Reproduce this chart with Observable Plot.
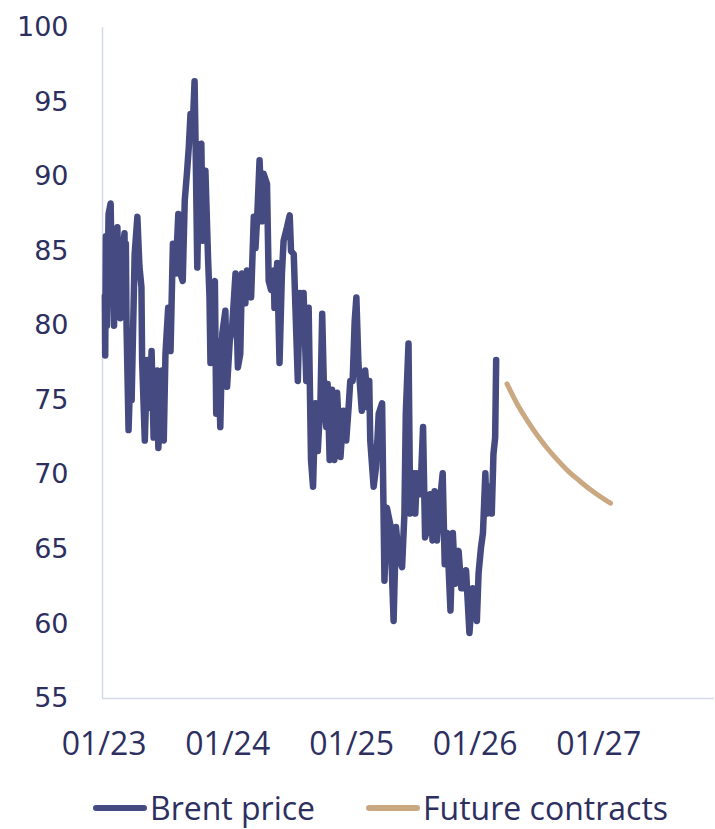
<!DOCTYPE html>
<html>
<head>
<meta charset="utf-8">
<script src="https://cdn.jsdelivr.net/npm/d3@7"></script>
<script src="https://cdn.jsdelivr.net/npm/@observablehq/plot@0.6"></script>
<style>
  html, body { margin: 0; padding: 0; background: #ffffff; }
  #wrap { width: 715px; height: 829px; position: relative; overflow: hidden; }
  g[aria-label="y-axis tick label"] text { font-family: "DejaVu Sans", sans-serif; font-size: 27px; fill: #2d2f5f; }
  g[aria-label="x-axis tick label"] text { font-family: "Open Sans", sans-serif; font-size: 32px; fill: #2d2f5f; }
  #legend { height: 66px; display: flex; align-items: center; justify-content: center; padding-left: 45px;
            font-family: "Open Sans", sans-serif; font-size: 32px; line-height: 36px; color: #2d2f5f; }
  .item { display: flex; align-items: center; margin: 0 25px; }
  .item span { display: block; line-height: 36px; }
  .item svg { margin-right: 2px; }
</style>
</head>
<body>
<div id="wrap">
  <div id="chart"></div>
  <div id="legend"></div>
</div>
<script>
// ---- Data ----
const brentDates = [
  "2023-01-03","2023-01-04","2023-01-06","2023-01-09","2023-01-14","2023-01-20","2023-01-24","2023-01-26",
  "2023-01-30","2023-02-04","2023-02-09","2023-02-12","2023-02-15","2023-02-18","2023-02-24","2023-03-02",
  "2023-03-04","2023-03-06","2023-03-08","2023-03-14",
  "2023-03-18","2023-03-23","2023-04-01","2023-04-09","2023-04-15","2023-04-21","2023-04-23","2023-05-01",
  "2023-05-08","2023-05-15","2023-05-21","2023-05-27","2023-06-02","2023-06-07","2023-06-10","2023-06-16",
  "2023-06-21","2023-06-26","2023-07-01","2023-07-09","2023-07-16","2023-07-23","2023-07-31","2023-08-08",
  "2023-08-14","2023-08-21","2023-08-27","2023-09-03","2023-09-08","2023-09-13","2023-09-19","2023-09-25",
  "2023-09-28","2023-10-03","2023-10-08","2023-10-15","2023-10-19","2023-10-27","2023-11-04","2023-11-08",
  "2023-11-11","2023-11-18","2023-11-24","2023-11-28","2023-12-03","2023-12-10","2023-12-16","2023-12-25",
  "2023-12-30",
  "2024-01-07","2024-01-14","2024-01-24","2024-01-31","2024-02-07","2024-02-12","2024-02-22","2024-02-27",
  "2024-03-10","2024-03-18","2024-03-23","2024-03-28","2024-04-04","2024-04-11","2024-04-16","2024-04-26",
  "2024-05-01","2024-05-08","2024-05-16","2024-05-18","2024-05-26","2024-06-02","2024-06-09","2024-06-14",
  "2024-06-24","2024-07-02","2024-07-06","2024-07-14","2024-07-19","2024-07-26","2024-08-01","2024-08-07",
  "2024-08-12","2024-08-20","2024-08-27","2024-09-03","2024-09-09","2024-09-16","2024-09-23","2024-10-01",
  "2024-10-06","2024-10-12","2024-10-18","2024-10-22","2024-10-28","2024-11-04","2024-11-11","2024-11-19",
  "2024-11-29","2024-12-08","2024-12-16","2024-12-23","2024-12-28",
  "2025-01-04","2025-01-10","2025-01-15","2025-01-21","2025-01-31","2025-02-10","2025-02-18","2025-02-22",
  "2025-02-25","2025-03-07","2025-03-14","2025-03-22","2025-04-01","2025-04-08","2025-04-15","2025-04-25",
  "2025-05-05","2025-05-12","2025-05-20","2025-05-30","2025-06-06","2025-06-10","2025-06-18","2025-06-23",
  "2025-07-03","2025-07-08","2025-07-13","2025-07-23","2025-07-31","2025-08-06","2025-08-14","2025-08-21",
  "2025-08-28","2025-09-03","2025-09-10","2025-09-17","2025-09-27","2025-10-03","2025-10-10","2025-10-20",
  "2025-10-27","2025-11-03","2025-11-13","2025-11-21","2025-11-28","2025-12-05","2025-12-15","2025-12-25",
  "2026-01-06","2026-01-11","2026-01-18","2026-01-24","2026-01-31","2026-02-04","2026-02-12","2026-02-19",
  "2026-02-24","2026-03-01","2026-03-04"
];
const brentValues = [
  82, 78, 86, 80, 87.5, 88.2, 83, 86,
  80, 85, 86.6, 81.5, 85.5, 80.5, 85, 86.2,
  81, 85.5, 80, 73,
  76, 75, 84.8, 87.3, 84, 82.6, 77.7, 72.3,
  77.7, 74.5, 78.3, 72.5, 75, 77, 71.8, 75.5,
  77, 72.3, 78.1, 81.2, 78.3, 85.5, 83.5, 87.5,
  83.5, 83, 88.4, 90.4, 92, 94.2, 93, 96.4,
  92.2, 83.9, 90, 92.2, 85.7, 90.4, 84.4, 82,
  77.5, 82.6, 83, 74.1, 79, 73.2, 79.5, 81,
  75.9,
  79, 79.9, 83.5, 77.2, 78.1, 83.5, 81.5, 83.7,
  81.9, 87.3, 85.2, 87.3, 91.1, 87, 90.2, 89.5,
  83, 82.4, 83.7, 81.2, 84.2, 77.5, 83.5, 85.7,
  86.6, 87.4, 85, 84.8, 81.2, 76.3, 82.2, 79.9,
  82.2, 76.3, 81.2, 71, 69.2, 74.8, 71.6, 75,
  80.8, 75, 73.2, 76.1, 71, 75.7, 71, 75.5,
  71.2, 74.3, 72.3, 74.5, 76.3,
  76.3, 80.3, 81.9, 77.5, 74.3, 77, 74.5, 76.3,
  72.3, 69.2, 70.5, 74.1, 74.8, 62.9, 67.8, 66.7,
  60.2, 66.5, 64.5, 63.8, 67.4, 74.1, 78.8, 67.4,
  70.1, 67.4, 70.1, 68.7, 73.2, 65.8, 66.5, 68.7,
  65.6, 68.9, 65.6, 67.8, 70.1, 64, 66.1, 60.9,
  66.1, 62.7, 64.9, 62.4, 62.4, 63.6, 59.4, 62.4,
  60.2, 63.4, 65.1, 66.1, 70.1, 67.4, 69.2, 67.4,
  71.4, 72.5, 77.7
];
const futureDates = [
  "2026-04-05","2026-05-05","2026-06-05","2026-07-05","2026-08-05","2026-09-05",
  "2026-10-05","2026-11-05","2026-12-05","2027-01-05","2027-02-05"
];
const futureValues = [76.1, 74.75, 73.6, 72.6, 71.7, 70.9, 70.2, 69.6, 69.05, 68.55, 68.1];
const yTicks = [55, 60, 65, 70, 75, 80, 85, 90, 95, 100];
const xTickDates = ["2023-01-01","2024-01-01","2025-01-01","2026-01-01","2027-01-01"];
const seriesNames = ["Brent price", "Future contracts"];
const seriesColors = ["#454a80", "#c9a882"];

// ---- Build tables ----
const brent = brentDates.map((d, i) => ({date: new Date(d), value: brentValues[i]}));
const futures = futureDates.map((d, i) => ({date: new Date(d), value: futureValues[i]}));
const xDomain = [new Date("2022-12-27"), new Date("2027-12-09")];
const yDomain = [55, 100];
const axisColor = "#d6d9ea";

const chart = Plot.plot({
  width: 715,
  height: 775,
  marginTop: 27,
  marginBottom: 77,
  marginLeft: 102,
  marginRight: 1,
  x: {type: "utc", domain: xDomain, ticks: xTickDates.map(d => new Date(d)),
      tickFormat: d3.utcFormat("%m/%y"), tickSize: 0, tickPadding: 34, label: null},
  y: {domain: yDomain, ticks: yTicks, tickSize: 0, tickPadding: 34, label: null},
  marks: [
    Plot.ruleY([yDomain[0]], {stroke: axisColor, strokeWidth: 1.5}),
    Plot.ruleX([xDomain[0]], {stroke: axisColor, strokeWidth: 1.5}),
    Plot.lineY(brent, {x: "date", y: "value", stroke: seriesColors[0], strokeWidth: 6.5,
                       strokeLinejoin: "round", strokeLinecap: "round"}),
    Plot.lineY(futures, {x: "date", y: "value", stroke: seriesColors[1], strokeWidth: 5,
                         curve: "monotone-x", strokeLinecap: "round"})
  ]
});
document.getElementById("chart").appendChild(chart);

// ---- Legend ----
const legend = document.getElementById("legend");
seriesNames.forEach((name, i) => {
  const item = document.createElement("div");
  item.className = "item";
  item.innerHTML = `<svg width="56" height="10"><line x1="4" y1="5" x2="52" y2="5" stroke="${seriesColors[i]}" stroke-width="6" stroke-linecap="round"/></svg><span>${name}</span>`;
  legend.appendChild(item);
});
</script>
</body>
</html>
